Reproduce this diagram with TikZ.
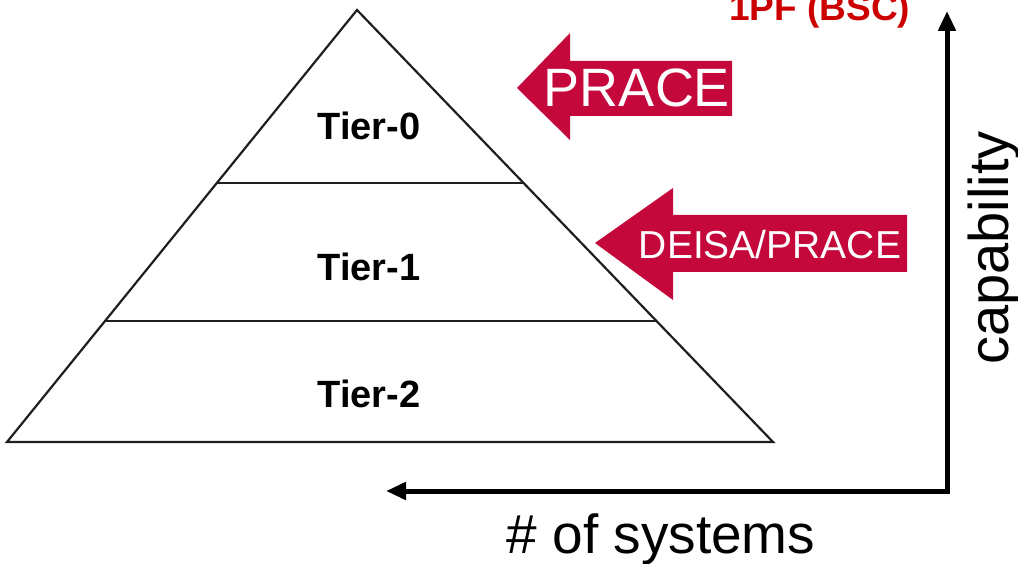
\documentclass[tikz,border=0pt]{standalone}
\usepackage{fontspec}
\setmainfont{Liberation Sans}
\usetikzlibrary{arrows.meta,calc}
\definecolor{pracered}{RGB}{196,8,60}
\definecolor{bscred}{RGB}{204,0,0}
\tikzset{
  tierlabel/.style={anchor=base,font=\fontsize{38}{42}\selectfont\bfseries,inner sep=0},
  pyrline/.style={draw=black!88,line width=2.2pt,line join=miter},
  blockarrow/.style={fill=pracered,draw=none},
  arrowtext/.style={anchor=base,text=white,inner sep=0},
  axis/.style={line width=5pt,-{Triangle[length=20pt,width=17pt]}},
}
\begin{document}
\begin{tikzpicture}[x=1pt,y=-1pt]
\useasboundingbox (0,0) rectangle (1018,564);
% pyramid
\coordinate (apex) at (357,10);
\coordinate (bl) at (7,442);
\coordinate (br) at (773,442);
\draw[pyrline] (apex) -- (bl) -- (br) -- cycle;
\coordinate (l1) at ($(apex)!0.4005!(bl)$);
\coordinate (r1) at ($(apex)!0.4005!(br)$);
\coordinate (l2) at ($(apex)!0.7199!(bl)$);
\coordinate (r2) at ($(apex)!0.7199!(br)$);
\draw[pyrline] (l1) -- (r1);
\draw[pyrline] (l2) -- (r2);
\node[tierlabel] (t0) at (369,140) {Tier-0};
\node[tierlabel] (t1) at (369,281) {Tier-1};
\node[tierlabel] (t2) at (369,407) {Tier-2};
% PRACE arrow
\fill[blockarrow] (517,88) -- (570,33) -- (570,61) -- (732,61) -- (732,116) -- (570,116) -- (570,140) -- cycle;
\node[arrowtext,font=\fontsize{54}{58}\selectfont] (prace) at (637,107) {PRACE};
% DEISA/PRACE arrow
\fill[blockarrow] (595,243) -- (673,188) -- (673,215) -- (907,215) -- (907,272) -- (673,272) -- (673,300) -- cycle;
\node[arrowtext,font=\fontsize{39}{42}\selectfont] (deisa) at (770,259) {DEISA/PRACE};
% 1PF (BSC)
\node[anchor=base west,inner sep=0,text=bscred,font=\fontsize{37}{40}\selectfont\bfseries] (bsc) at (729,21) {1PF (BSC)};
% axes
\coordinate (corner) at (947,491);
\coordinate (ytip) at (947,11);
\coordinate (xtip) at (386,491);
\draw[axis] ([yshift=-2.5pt]corner) -- (ytip);
\draw[axis] ([xshift=2.5pt]corner) -- (xtip);
\node[rotate=90,anchor=base,inner sep=0,font=\fontsize{56}{60}\selectfont] (cap) at (1008,248) {capability};
\node[anchor=base,inner sep=0,font=\fontsize{55}{60}\selectfont] (nsys) at (661,553) {\# of systems};
\end{tikzpicture}
\end{document}
